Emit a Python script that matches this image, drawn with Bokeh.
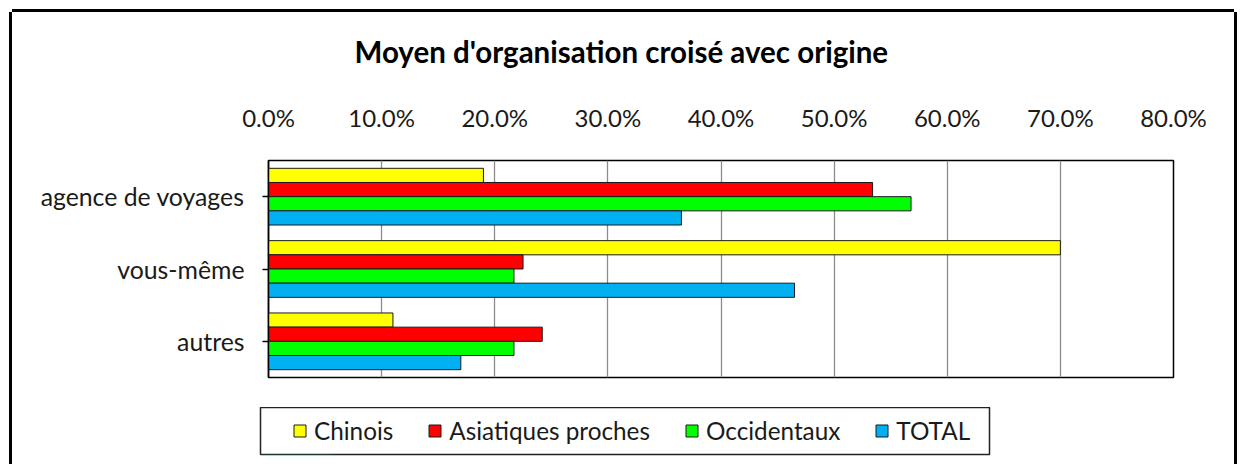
from bokeh.plotting import figure
from bokeh.layouts import column
from bokeh.models import (ColumnDataSource, FactorRange, Range1d, FixedTicker,
                          NumeralTickFormatter, Legend, LegendItem, Title)
from bokeh.transform import dodge
from bokeh.embed import file_html
from bokeh.resources import INLINE

categories = ["agence de voyages", "vous-même", "autres"]
chinois = [0.190, 0.700, 0.110]
asiatiques = [0.534, 0.225, 0.242]
occidentaux = [0.568, 0.217, 0.217]
total = [0.365, 0.465, 0.170]
series_names = ["Chinois", "Asiatiques proches", "Occidentaux", "TOTAL"]
series_colors = ["#FFFF00", "#FF0000", "#00FF00", "#00B0F0"]
x_ticks = [0.0, 0.1, 0.2, 0.3, 0.4, 0.5, 0.6, 0.7, 0.8]
title_text = "Moyen d'organisation croisé avec origine"

FONT = "Lato"
FS = "24px"

source = ColumnDataSource(data=dict(cat=categories, Chinois=chinois,
                                    Asiatiques=asiatiques, Occidentaux=occidentaux,
                                    TOTAL=total))

# ---- main chart ----
p = figure(width=1222, height=407,
           y_range=FactorRange(factors=list(reversed(categories)), range_padding=0),
           x_range=Range1d(0, 0.8), x_axis_location="above",
           output_backend="svg", toolbar_location=None,
           min_border_left=256, min_border_right=61,
           min_border_top=159, min_border_bottom=30)
p.frame_align = False
p.margin = (-12, 0, 0, 0)
p.border_fill_alpha = 0
p.background_fill_color = "white"

p.title = Title(text=title_text, align="left", offset=86, standoff=62,
                text_font=FONT, text_font_size="29.5px", text_font_style="bold",
                text_color="black")

cols = ["Chinois", "Asiatiques", "Occidentaux", "TOTAL"]
offsets = [0.294, 0.098, -0.098, -0.294]
for col, off, color in zip(cols, offsets, series_colors):
    p.hbar(y=dodge("cat", off, range=p.y_range), right=col, left=0,
           height=0.196, source=source, fill_color=color,
           line_color="#1a1a1a", line_width=1)

xa = p.xaxis[0]
xa.ticker = FixedTicker(ticks=x_ticks)
xa.formatter = NumeralTickFormatter(format="0.0%")
xa.axis_line_color = None
xa.major_tick_line_color = None
xa.minor_tick_line_color = None
xa.major_label_standoff = 23
xa.major_label_text_font = FONT
xa.major_label_text_font_size = FS
xa.major_label_text_color = "#1a1a1a"

ya = p.yaxis[0]
ya.axis_line_color = "black"
ya.axis_line_width = 1.5
ya.major_tick_out = 6
ya.major_tick_in = 0
ya.major_tick_line_color = "black"
ya.major_tick_line_width = 1.5
ya.major_label_standoff = 18
ya.major_label_text_font = FONT
ya.major_label_text_font_size = "24.8px"
ya.major_label_text_color = "#1a1a1a"

p.xgrid.ticker = FixedTicker(ticks=x_ticks)
p.xgrid.grid_line_color = "#8c8c8c"
p.xgrid.grid_line_width = 1.3
p.ygrid.grid_line_color = None
p.outline_line_color = "black"
p.outline_line_width = 1.5

# ---- legend strip (its frame is the legend box) ----
q = figure(width=1222, height=57, x_range=Range1d(0, 1), y_range=Range1d(0, 1),
           x_axis_type=None, y_axis_type=None,
           output_backend="svg", toolbar_location=None,
           min_border_left=248, min_border_right=245,
           min_border_top=0, min_border_bottom=10)
q.frame_align = False
q.grid.visible = False
q.outline_line_color = "#222222"
q.outline_line_width = 1.5

swatches = []
for color in series_colors:
    # sample glyph kept outside the visible range; only its style feeds the legend
    swatches.append(q.hbar(y=[-10], right=[0.1], left=0, height=0.1,
                           fill_color=color, line_color="#1a1a1a", line_width=1))

legend = Legend(items=[LegendItem(label=n, renderers=[r]) for n, r in zip(series_names, swatches)],
                location=(32, 9), orientation="horizontal",
                glyph_width=15, glyph_height=15, label_standoff=7, spacing=34,
                padding=0, margin=0, border_line_color=None, background_fill_alpha=0,
                label_text_font=FONT, label_text_font_size="24.3px",
                label_text_color="#1a1a1a", label_height=20)
q.add_layout(legend, "center")

layout = column(p, q, spacing=0)
layout.margin = (12, 0, 0, 12)
layout.styles = {"box-shadow": "0 -3px 0 0 #000, -3px 0 0 0 #000, 3px 0 0 0 #000"}

open("out.html", "w").write(file_html(layout, INLINE))
